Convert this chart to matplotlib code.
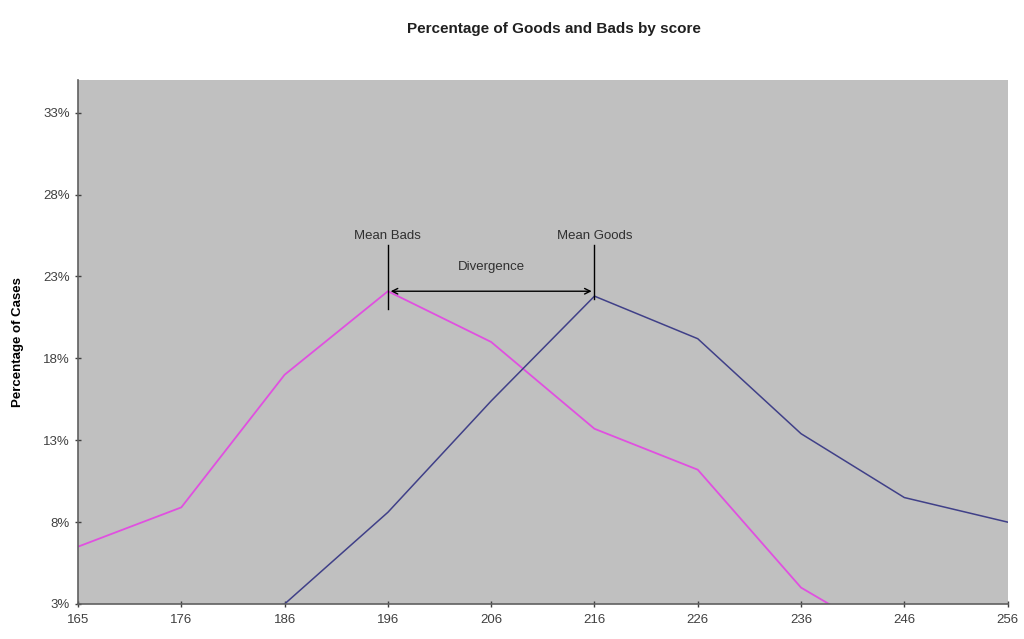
import numpy as np
import matplotlib.pyplot as plt

plt.rcParams['font.family'] = ['Liberation Sans', 'DejaVu Sans']

# data
scores = ['165', '176', '186', '196', '206', '216', '226', '236', '246', '256']
bads = [6.5, 8.9, 17.0, 22.1, 19.0, 13.7, 11.2, 4.0, 0.3, 0.0]
goods = [0.5, 1.5, 3.0, 8.6, 15.4, 21.8, 19.2, 13.4, 9.5, 8.0]
y_ticks = [3, 8, 13, 18, 23, 28, 33]

mean_bads = 3   # index of 196
mean_goods = 5  # index of 216

fig = plt.figure(figsize=(10.24, 6.39), dpi=100)
ax = fig.add_axes([0.0762, 0.0548, 0.9078, 0.82])
ax.set_facecolor('#c0c0c0')

x = np.arange(len(scores))
ax.plot(x, bads, color='#e050e0', lw=1.3)
ax.plot(x, goods, color='#404088', lw=1.1)

ax.set_xlim(0, len(scores) - 1)
ax.set_ylim(3, 35)
ax.set_xticks(x)
ax.set_xticklabels(scores)
ax.set_yticks(y_ticks)
ax.set_yticklabels([f'{v}%' for v in y_ticks])
ax.tick_params(axis='both', labelsize=9.5, colors='#404040', direction='inout', length=5, width=1)
ax.tick_params(axis='x', pad=5)

for s in ['top', 'right']:
    ax.spines[s].set_visible(False)
for s in ['left', 'bottom']:
    ax.spines[s].set_color('#606060')
    ax.spines[s].set_linewidth(1.2)

# mean markers and divergence arrow
ax.plot([mean_bads, mean_bads], [21.0, 24.9], color='black', lw=1)
ax.plot([mean_goods, mean_goods], [21.6, 24.9], color='black', lw=1)
ax.annotate('', xy=(mean_goods, 22.1), xytext=(mean_bads, 22.1),
            arrowprops=dict(arrowstyle='<->', color='black', lw=1, mutation_scale=10))
ax.text(mean_bads, 25.1, 'Mean Bads', ha='center', va='bottom', fontsize=9.5, color='#303030')
ax.text(mean_goods, 25.1, 'Mean Goods', ha='center', va='bottom', fontsize=9.5, color='#303030')
ax.text((mean_bads + mean_goods) / 2, 23.2, 'Divergence', ha='center', va='bottom', fontsize=9.5, color='#303030')

fig.text(0.541, 0.955, 'Percentage of Goods and Bads by score', ha='center', va='center',
         fontsize=11, fontweight='bold', color='#202020')
fig.text(0.018, 0.465, 'Percentage of Cases', rotation=90, ha='center', va='center',
         fontsize=9.5, fontweight='bold', color='black')

fig.savefig('out.png', dpi=100)
